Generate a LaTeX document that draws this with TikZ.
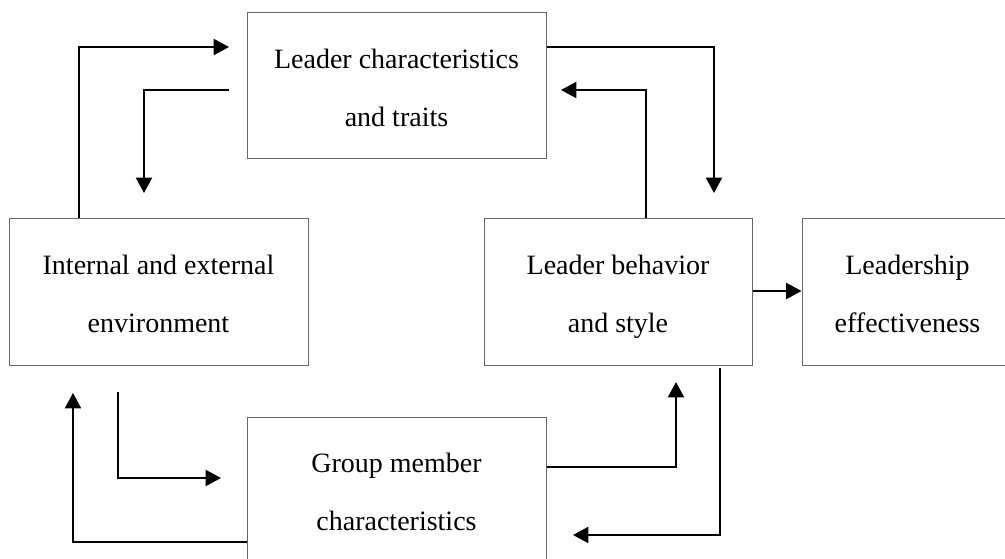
\documentclass[tikz,border=0pt]{standalone}
\usepackage{fontspec}
\setmainfont{Liberation Serif}
\usetikzlibrary{arrows.meta}
\newcommand{\twolines}[2]{\strut #1\\#2\strut}
\begin{document}
\begin{tikzpicture}[x=0.75pt,y=-0.75pt,
  box/.style={draw=black!60,line width=0.75pt,rectangle,align=center,inner sep=0pt,
    font=\fontsize{21}{43.5}\selectfont},
  arr/.style={line width=1.6pt,-{Triangle[length=11.5pt,width=12pt]}}]
\useasboundingbox (0,0) rectangle (1005,559);
\fill[white] (0,0) rectangle (1005,559);
\node[box,minimum width=224.25pt,minimum height=109.5pt] (top) at (396.5,86) {\twolines{Leader characteristics}{and traits}};
\node[box,minimum width=224.25pt,minimum height=109.5pt] (env) at (158.5,292) {\twolines{Internal and external}{environment}};
\node[box,minimum width=201pt,minimum height=109.5pt] (beh) at (618,292) {\twolines{Leader behavior}{and style}};
\node[box,minimum width=158.25pt,minimum height=109.5pt] (eff) at (907.5,292) {\twolines{Leadership}{effectiveness}};
\node[box,minimum width=224.25pt,minimum height=109.5pt] (grp) at (396.5,490) {\twolines{Group member}{characteristics}};
\coordinate (c1) at (229,47);
\coordinate (c2) at (229,90);
\coordinate (c3) at (144,193);
\coordinate (c4) at (714,193);
\coordinate (c5) at (561,90);
\coordinate (c6) at (676,382);
\coordinate (c7) at (720,368);
\coordinate (c8) at (573,535);
\coordinate (c9) at (73,393);
\coordinate (c10) at (118,392);
\coordinate (c11) at (221,478);
\draw[arr] (79,0 |- env.north) |- (c1);
\draw[arr] (c2) -| (c3);
\draw[arr] (top.east |- 0,47) -| (c4);
\draw[arr] (646,0 |- beh.north) |- (c5);
\draw[arr] (beh.east |- 0,291) -- (eff.west |- 0,291);
\draw[arr] (grp.east |- 0,467) -| (c6);
\draw[arr] (c7) |- (c8);
\draw[arr] (grp.west |- 0,542) -| (c9);
\draw[arr] (c10) |- (c11);
\end{tikzpicture}
\end{document}
